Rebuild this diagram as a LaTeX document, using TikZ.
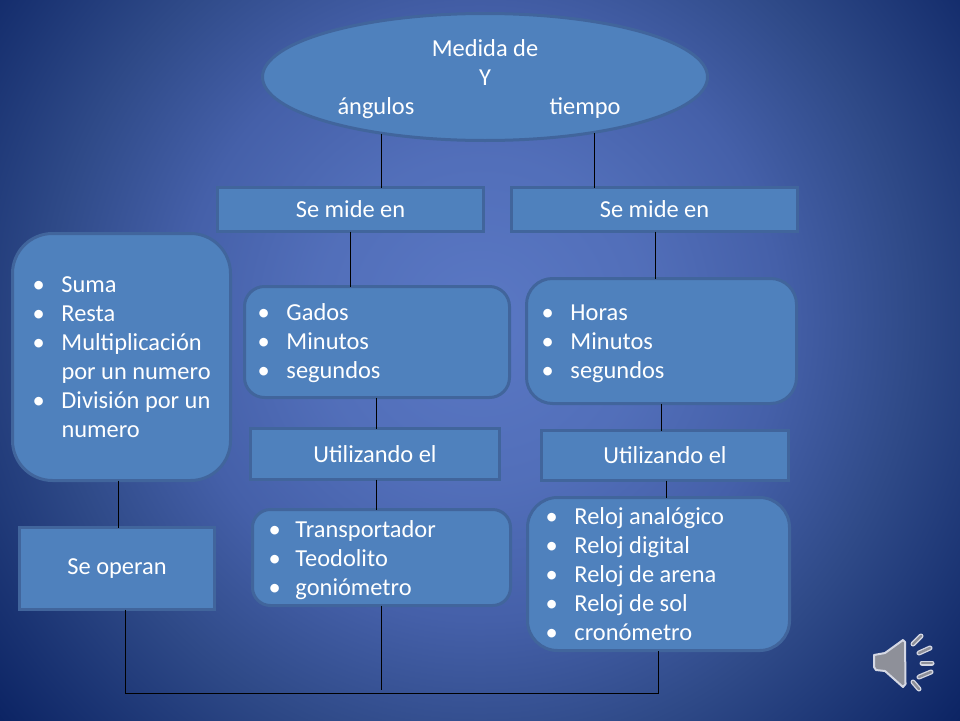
\documentclass[tikz,border=0pt]{standalone}
\usepackage{fontspec}
\setmainfont{Carlito}
\usetikzlibrary{shapes.geometric}
\definecolor{boxfill}{HTML}{4F81BD}
\definecolor{boxedge}{HTML}{41659C}
\definecolor{bgA}{HTML}{5A78C4}
\definecolor{bgB}{HTML}{4560A9}
\definecolor{bgC}{HTML}{2F4A88}
\definecolor{bgD}{HTML}{0C2464}
\definecolor{spkedge}{HTML}{D5D8E4}
\definecolor{spkfill}{HTML}{8E9099}
\pgfdeclareradialshading{slidebg}{\pgfpoint{0bp}{0bp}}{color(0bp)=(bgA); color(7bp)=(bgA!60!bgB); color(12.5bp)=(bgB); color(18bp)=(bgC); color(26bp)=(bgD); color(36bp)=(bgD)}
\newlength\bltind
\setlength\bltind{27pt}
\newcommand\blt[1]{\par\noindent\makebox[\bltind][l]{\hspace*{-2pt}•}\mbox{#1}}
\newcommand\cnt[1]{\par\noindent\hspace*{\bltind}\mbox{#1}}
\newcommand\lst[2][-6pt]{\noindent\raisebox{#1}[0pt][0pt]{\parbox[c]{\linewidth}{#2}}}
\tikzset{
  box/.style={draw=boxedge,fill=boxfill,line width=3pt,text=white,font=\fontsize{24.4}{29}\selectfont,inner sep=0pt,outer sep=0pt,align=center,anchor=north west,xshift=1.5pt,yshift=-1.5pt},
  listbox/.style={align=flush left,inner xsep=#1},
  conn/.style={draw=black,line width=1pt},
  spk/.style={draw=spkedge,line width=2pt,fill=spkfill,line cap=round,line join=round},
  ray/.style={line width=5pt,line cap=round,draw=spkedge},
  rayin/.style={line width=2.4pt,line cap=round,draw=spkfill}
}
\begin{document}
\begin{tikzpicture}[x=1pt,y=-1pt]
\useasboundingbox (0,0) rectangle (960,720);
\begin{scope}
\clip (0,0) rectangle (960,720);
\shade[shading=slidebg] (-120,-280) rectangle (1080,920);
\end{scope}

\node[box,ellipse,anchor=center,xshift=-1.5pt,yshift=1.5pt,minimum width=445pt,minimum height=127pt] (el) at (485,77)
  {\rule{0pt}{22pt}Medida de\\Y\\\makebox[283pt]{ángulos\hfill tiempo}\hspace*{12pt}};

\node[box,minimum width=266pt,minimum height=44pt] (sm1) at (216,186) {Se mide en};
\node[box,minimum width=286pt,minimum height=44pt] (sm2) at (510,186) {Se mide en};

\node[box,rounded corners=40pt,listbox=22pt,text width=174pt,minimum height=247pt] (op) at (11,232)
  {\lst{\blt{Suma}\blt{Resta}\blt{Multiplicación}\cnt{por un numero}\blt{División por un}\cnt{numero}}};

\node[box,rounded corners=20pt,listbox=15pt,text width=235pt,minimum height=111pt] (gr) at (243,285)
  {\lst[-7pt]{\blt{Gados}\blt{Minutos}\blt{segundos}}};
\node[box,rounded corners=26pt,listbox=17pt,text width=236pt,minimum height=125pt] (hr) at (525,277)
  {\lst[-9pt]{\blt{Horas}\blt{Minutos}\blt{segundos}}};

\node[box,minimum width=249pt,minimum height=51pt] (u1) at (249,427) {Utilizando el};
\node[box,minimum width=247pt,minimum height=50pt] (u2) at (540,429) {Utilizando el};

\node[box,minimum width=195pt,minimum height=82pt] (so) at (18,526) {Se operan};

\node[box,rounded corners=18pt,listbox=18pt,text width=222pt,minimum height=96pt] (tr) at (251,508)
  {\setlength\bltind{25pt}\lst[-9pt]{\blt{Transportador}\blt{Teodolito}\blt{goniómetro}}};
\node[box,rounded corners=30pt,listbox=20pt,text width=222pt,minimum height=153pt] (rl) at (526,496)
  {\lst{\blt{Reloj analógico}\blt{Reloj digital}\blt{Reloj de arena}\blt{Reloj de sol}\blt{cronómetro}}};

\coordinate (bl) at (125,693);
\coordinate (br) at (658,693);
\coordinate (mid) at (381,690);
\coordinate (e1) at ([shift={(-104,56.6)}]el.center);
\coordinate (e2) at ([shift={(109,55.8)}]el.center);

\draw[conn] (e1) -- (e1 |- sm1.north);
\draw[conn] (e2) -- (e2 |- sm2.north);
\draw[conn] (350,0 |- sm1.south) -- (350,0 |- gr.north);
\draw[conn] (655,0 |- sm2.south) -- (655,0 |- hr.north);
\draw[conn] (376,0 |- gr.south) -- (376,0 |- u1.north);
\draw[conn] (661,0 |- hr.south) -- (661,0 |- u2.north);
\draw[conn] (376,0 |- u1.south) -- (376,0 |- tr.north);
\draw[conn] (666,0 |- u2.south) -- (666,0 |- rl.north);
\draw[conn] (118,0 |- op.south) -- (118,0 |- so.north);
\draw[conn] (bl |- so.south) -- (bl) -- (br) -- (br |- rl.south);
\draw[conn] (mid |- tr.south) -- (mid);

% speaker icon
\draw[spk] (874,655) -- (885,653) -- (903,640) -- (905,642) -- (905.5,684) -- (903,687) -- (885,671) -- (876,670) -- (874,667) -- cycle;
\foreach \a/\b/\c/\d in {913/644/921/636, 919/653/930/648, 922/663/932/663, 919/677/931/672, 913/682/919/689}{
  \draw[ray] (\a,\b) -- (\c,\d);
  \draw[rayin] (\a,\b) -- (\c,\d);
}
\end{tikzpicture}
\end{document}
